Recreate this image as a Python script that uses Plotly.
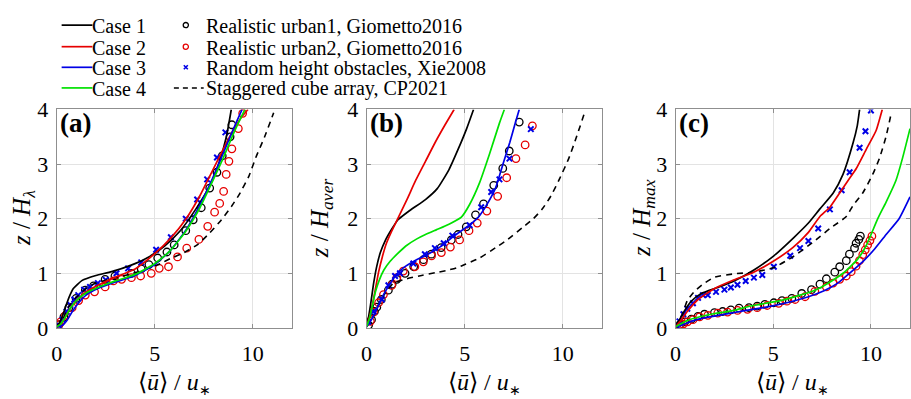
import plotly.graph_objects as go

# ---------------- data: <u>/u* (x) versus normalised height (z) ----------------
# Panel (a): z / H_lambda
a_case1_u = [0.0, 0.15, 0.3, 0.45, 0.62, 0.85, 1.3, 2.0, 2.8, 3.8, 4.65, 5.5, 6.3, 7.1, 7.8, 8.3, 8.65, 8.9]
a_case1_z = [0.02, 0.1, 0.22, 0.38, 0.55, 0.72, 0.87, 0.96, 1.03, 1.15, 1.29, 1.5, 1.78, 2.18, 2.6, 3.05, 3.5, 4.0]
a_case2_u = [0.0, 0.2, 0.4, 0.7, 1.0, 1.5, 2.1, 3.0, 4.0, 5.0, 5.8, 6.6, 7.3, 7.9, 8.5, 9.0, 9.4, 9.75]
a_case2_z = [0.02, 0.06, 0.17, 0.36, 0.5, 0.66, 0.78, 0.93, 1.08, 1.36, 1.64, 2.0, 2.42, 2.85, 3.28, 3.62, 3.85, 4.0]
a_case3_u = [0.0, 0.3, 0.55, 0.8, 1.1, 1.5, 2.1, 3.0, 4.0, 5.0, 5.8, 6.6, 7.3, 7.9, 8.4, 8.9, 9.2, 9.45]
a_case3_z = [0.02, 0.05, 0.15, 0.3, 0.45, 0.6, 0.72, 0.84, 0.96, 1.16, 1.42, 1.8, 2.25, 2.7, 3.12, 3.55, 3.8, 4.0]
a_case4_u = [0.0, 0.2, 0.45, 0.7, 1.0, 1.5, 2.1, 3.0, 4.0, 5.0, 5.8, 6.6, 7.3, 7.9, 8.5, 9.0, 9.35, 9.6]
a_case4_z = [0.02, 0.07, 0.2, 0.36, 0.5, 0.64, 0.74, 0.86, 0.98, 1.18, 1.42, 1.78, 2.2, 2.65, 3.12, 3.55, 3.82, 4.0]
a_cp_u = [0.0, 0.3, 0.6, 1.0, 1.5, 2.0, 2.8, 3.8, 4.6, 5.3, 5.8, 6.5, 7.2, 7.8, 8.4, 8.9, 9.3, 9.8, 10.15, 10.6, 11.06]
a_cp_z = [0.02, 0.15, 0.38, 0.56, 0.72, 0.82, 0.9, 0.99, 1.08, 1.18, 1.27, 1.38, 1.53, 1.74, 1.98, 2.22, 2.44, 2.78, 3.12, 3.5, 3.94]
a_urb1_u = [0.12, 0.37, 0.62, 0.99, 1.46, 1.88, 2.47, 2.97, 3.81, 4.31, 4.7, 5.15, 5.62, 5.99, 6.58, 6.96, 7.37, 7.8, 8.17, 8.44, 8.84, 8.93]
a_urb1_z = [0.06, 0.2, 0.37, 0.54, 0.69, 0.77, 0.89, 0.95, 1.0, 1.08, 1.16, 1.28, 1.39, 1.52, 1.78, 1.98, 2.2, 2.56, 2.85, 3.15, 3.5, 3.72]
a_urb2_u = [0.12, 0.2, 0.45, 0.79, 1.12, 1.46, 1.93, 2.47, 2.89, 3.31, 3.81, 4.28, 4.82, 5.23, 5.7, 6.16, 6.63, 7.25, 7.7, 8.05, 8.31, 8.51, 8.64, 8.78, 8.93, 9.26, 9.48]
a_urb2_z = [0.06, 0.11, 0.23, 0.37, 0.5, 0.6, 0.66, 0.75, 0.86, 0.89, 0.92, 0.95, 1.0, 1.09, 1.12, 1.3, 1.46, 1.62, 1.86, 2.12, 2.28, 2.5, 2.81, 3.05, 3.28, 3.65, 3.93]
a_xie_u = [0.1, 0.3, 0.5, 0.7, 0.9, 1.1, 1.4, 1.7, 2.1, 2.5, 3.05, 3.64, 4.31, 5.07, 5.82, 6.58, 7.16, 7.67, 8.17, 8.6]
a_xie_z = [0.05, 0.15, 0.3, 0.42, 0.52, 0.6, 0.7, 0.75, 0.82, 0.88, 1.0, 1.09, 1.2, 1.43, 1.66, 2.0, 2.35, 2.72, 3.12, 3.58]

# Panel (b): z / H_aver
b_case1_u = [0.0, 0.1, 0.2, 0.35, 0.5, 0.7, 0.95, 1.3, 1.6, 2.2, 3.0, 3.6, 4.2, 4.7, 5.1, 5.45]
b_case1_z = [0.02, 0.2, 0.42, 0.8, 1.1, 1.38, 1.6, 1.82, 1.98, 2.15, 2.35, 2.55, 2.9, 3.3, 3.65, 4.0]
b_case2_u = [0.0, 0.15, 0.35, 0.61, 0.8, 1.01, 1.25, 1.52, 2.03, 2.5, 3.0, 3.5, 4.0, 4.46]
b_case2_z = [0.02, 0.2, 0.52, 1.02, 1.3, 1.55, 1.75, 1.95, 2.33, 2.7, 3.05, 3.4, 3.72, 4.0]
b_case3_u = [0.0, 0.25, 0.51, 0.85, 1.2, 1.5, 1.87, 2.5, 3.24, 3.9, 4.4, 5.27, 5.7, 6.08, 6.58, 6.94, 7.3, 7.6, 7.78]
b_case3_z = [0.02, 0.15, 0.34, 0.6, 0.81, 0.97, 1.1, 1.24, 1.37, 1.52, 1.67, 1.89, 2.03, 2.23, 2.57, 2.99, 3.4, 3.78, 4.0]
b_case4_u = [0.0, 0.15, 0.3, 0.45, 0.65, 0.88, 1.2, 1.55, 2.0, 2.56, 3.0, 3.57, 4.2, 4.83, 5.25, 5.76, 6.26, 6.77, 7.02]
b_case4_z = [0.02, 0.18, 0.42, 0.66, 0.88, 1.06, 1.22, 1.35, 1.5, 1.63, 1.71, 1.8, 1.9, 2.03, 2.26, 2.66, 3.18, 3.75, 4.0]
b_cp_u = [0.0, 0.3, 0.6, 0.95, 1.37, 2.05, 2.8, 3.5, 4.05, 4.6, 5.06, 5.76, 6.58, 7.2, 7.95, 8.5, 8.96, 9.4, 9.82, 10.3, 10.7, 11.1]
b_cp_z = [0.02, 0.18, 0.42, 0.64, 0.82, 0.9, 0.96, 1.01, 1.05, 1.1, 1.17, 1.28, 1.47, 1.62, 1.84, 2.0, 2.18, 2.42, 2.72, 3.1, 3.5, 3.93]
b_urb1_u = [0.1, 0.25, 0.4, 0.52, 0.75, 1.11, 1.3, 1.54, 1.96, 2.4, 2.9, 3.3, 3.8, 4.32, 4.66, 5.08, 5.55, 5.96, 6.48, 6.94, 7.27, 7.78]
b_urb1_z = [0.05, 0.15, 0.3, 0.38, 0.52, 0.69, 0.8, 0.89, 1.0, 1.12, 1.25, 1.35, 1.47, 1.61, 1.71, 1.85, 2.07, 2.27, 2.61, 2.92, 3.24, 3.77]
b_urb2_u = [0.19, 0.35, 0.61, 0.86, 1.28, 1.54, 1.87, 2.46, 2.89, 3.31, 3.81, 4.27, 4.74, 5.22, 5.64, 6.13, 6.68, 7.14, 7.61, 8.08, 8.45]
b_urb2_z = [0.12, 0.29, 0.46, 0.61, 0.78, 0.92, 1.04, 1.12, 1.21, 1.32, 1.38, 1.48, 1.61, 1.78, 1.92, 2.14, 2.41, 2.75, 3.1, 3.35, 3.7]
b_xie_u = [0.08, 0.35, 0.78, 1.11, 1.45, 1.7, 2.38, 2.97, 3.48, 3.93, 4.37, 5.25, 5.84, 6.35, 6.77, 7.28, 8.37]
b_xie_z = [0.11, 0.3, 0.52, 0.78, 0.95, 1.0, 1.18, 1.35, 1.46, 1.55, 1.69, 1.88, 2.21, 2.49, 2.72, 3.1, 3.64]

# Panel (c): z / H_max
c_case1_u = [0.0, 0.2, 0.47, 0.81, 1.32, 2.16, 3.0, 4.01, 5.03, 6.04, 6.8, 7.39, 8.07, 8.57, 9.08, 9.3, 9.42]
c_case1_z = [0.02, 0.15, 0.32, 0.49, 0.63, 0.74, 0.86, 1.06, 1.32, 1.65, 1.92, 2.18, 2.47, 2.81, 3.38, 3.7, 4.0]
c_case2_u = [0.0, 0.3, 0.6, 1.15, 2.0, 3.0, 4.0, 5.0, 6.0, 6.8, 7.39, 7.9, 8.4, 8.83, 9.25, 9.76, 10.26, 10.58]
c_case2_z = [0.02, 0.15, 0.3, 0.52, 0.72, 0.88, 1.02, 1.22, 1.47, 1.75, 2.04, 2.21, 2.47, 2.7, 2.92, 3.27, 3.61, 4.0]
c_case3_u = [0.0, 0.4, 0.8, 1.4, 2.2, 3.3, 4.5, 5.8, 6.8, 7.6, 8.3, 8.9, 9.6, 10.2, 10.8, 11.44, 12.0]
c_case3_z = [0.02, 0.06, 0.12, 0.18, 0.23, 0.3, 0.37, 0.47, 0.57, 0.68, 0.82, 1.0, 1.22, 1.45, 1.72, 2.0, 2.4]
c_case4_u = [0.0, 0.3, 0.7, 1.2, 1.82, 3.0, 3.84, 5.36, 6.37, 7.2, 7.72, 8.57, 9.3, 9.75, 10.35, 10.77, 11.28, 11.61, 12.0]
c_case4_z = [0.02, 0.08, 0.15, 0.2, 0.25, 0.32, 0.4, 0.5, 0.6, 0.7, 0.8, 1.0, 1.25, 1.5, 2.0, 2.3, 2.7, 3.1, 3.65]
c_cp_u = [0.0, 0.3, 0.6, 1.0, 1.4, 2.0, 3.0, 4.0, 5.0, 6.0, 7.0, 7.9, 8.74, 9.08, 9.58, 10.09, 10.43, 10.77, 11.02]
c_cp_z = [0.02, 0.2, 0.5, 0.68, 0.8, 0.93, 0.99, 1.02, 1.1, 1.3, 1.56, 1.82, 2.04, 2.24, 2.47, 2.81, 3.1, 3.5, 3.9]
c_urb1_u = [0.22, 0.47, 0.81, 1.15, 1.48, 1.99, 2.41, 2.83, 3.25, 3.76, 4.18, 4.57, 5.03, 5.45, 5.95, 6.46, 6.96, 7.39, 7.72, 8.15, 8.4, 8.74, 8.9, 9.16, 9.24, 9.38, 9.46]
c_urb1_z = [0.06, 0.11, 0.16, 0.21, 0.25, 0.28, 0.3, 0.33, 0.36, 0.37, 0.4, 0.43, 0.46, 0.5, 0.54, 0.63, 0.7, 0.8, 0.9, 1.02, 1.12, 1.23, 1.35, 1.46, 1.55, 1.62, 1.68]
c_urb2_u = [0.22, 0.39, 0.61, 0.89, 1.23, 1.65, 2.16, 2.66, 3.17, 3.68, 4.18, 4.69, 5.28, 5.7, 6.12, 6.63, 7.13, 7.72, 8.06, 8.4, 8.74, 8.99, 9.24, 9.41, 9.58, 9.71, 9.83, 9.95, 10.05]
c_urb2_z = [0.04, 0.07, 0.11, 0.15, 0.2, 0.23, 0.27, 0.29, 0.32, 0.34, 0.37, 0.41, 0.45, 0.49, 0.52, 0.57, 0.67, 0.75, 0.82, 0.89, 0.95, 1.03, 1.13, 1.23, 1.34, 1.43, 1.52, 1.6, 1.68]
c_xie_u = [0.05, 0.2, 0.4, 0.6, 0.89, 1.15, 1.4, 1.65, 2.07, 2.5, 2.83, 3.17, 3.59, 4.01, 4.44, 5.03, 5.87, 6.37, 6.8, 7.3, 7.9, 8.5, 8.91, 9.42, 9.72, 10.0]
c_xie_z = [0.05, 0.12, 0.25, 0.35, 0.45, 0.55, 0.6, 0.6, 0.66, 0.7, 0.74, 0.79, 0.86, 0.92, 0.97, 1.12, 1.32, 1.46, 1.59, 1.82, 2.17, 2.52, 2.85, 3.3, 3.6, 3.98]

panel_labels = ["(a)", "(b)", "(c)"]
y_titles = ["<i>z</i> / <i>H</i><sub><i>λ</i></sub>",
            "<i>z</i> / <i>H</i><sub><i>aver</i></sub>",
            "<i>z</i> / <i>H</i><sub><i>max</i></sub>"]
x_title = "⟨<i>ū</i>⟩ / <i>u</i><sub><span style='font-size:14px'>∗</span></sub>"
x_ticks = [0, 5, 10]
y_ticks = [0, 1, 2, 3, 4]

case_names = ["Case 1", "Case 2", "Case 3", "Case 4"]
ref_names = ["Realistic urban1, Giometto2016", "Realistic urban2, Giometto2016",
             "Random height obstacles, Xie2008", "Staggered cube array, CP2021"]

panels = [
    dict(cases=[(a_case1_u, a_case1_z), (a_case2_u, a_case2_z), (a_case3_u, a_case3_z), (a_case4_u, a_case4_z)],
         cp=(a_cp_u, a_cp_z), urb1=(a_urb1_u, a_urb1_z), urb2=(a_urb2_u, a_urb2_z), xie=(a_xie_u, a_xie_z)),
    dict(cases=[(b_case1_u, b_case1_z), (b_case2_u, b_case2_z), (b_case3_u, b_case3_z), (b_case4_u, b_case4_z)],
         cp=(b_cp_u, b_cp_z), urb1=(b_urb1_u, b_urb1_z), urb2=(b_urb2_u, b_urb2_z), xie=(b_xie_u, b_xie_z)),
    dict(cases=[(c_case1_u, c_case1_z), (c_case2_u, c_case2_z), (c_case3_u, c_case3_z), (c_case4_u, c_case4_z)],
         cp=(c_cp_u, c_cp_z), urb1=(c_urb1_u, c_urb1_z), urb2=(c_urb2_u, c_urb2_z), xie=(c_xie_u, c_xie_z)),
]

# ---------------- styling ----------------
W, H = 911, 399
SERIF = "Liberation Serif"
BLACK, RED, BLUE, GREEN = "#000000", "#e60000", "#0000e6", "#00e100"
case_colors = [BLACK, RED, BLUE, GREEN]
FRAME = "#8f8f8f"
GRID = "#e3e3e3"

x_domains = [(51 / W, 288 / W), (363 / W, 600 / W), (674 / W, 910 / W)]
y_domain = (1 - 337 / H, 1 - 104 / H)

fig = go.Figure()

for i, p in enumerate(panels):
    xa = "x" if i == 0 else f"x{i + 1}"
    ya = "y" if i == 0 else f"y{i + 1}"
    # reference data (markers)
    fig.add_trace(go.Scatter(x=p["urb1"][0], y=p["urb1"][1], mode="markers", name=ref_names[0],
                             marker=dict(symbol="circle-open", size=7.5, color=BLACK, line=dict(width=1.3)),
                             xaxis=xa, yaxis=ya, showlegend=False))
    fig.add_trace(go.Scatter(x=p["urb2"][0], y=p["urb2"][1], mode="markers", name=ref_names[1],
                             marker=dict(symbol="circle-open", size=7.5, color=RED, line=dict(width=1.3)),
                             xaxis=xa, yaxis=ya, showlegend=False))
    fig.add_trace(go.Scatter(x=p["xie"][0], y=p["xie"][1], mode="markers", name=ref_names[2],
                             marker=dict(symbol="x-thin-open", size=5.5, color=BLUE, line=dict(width=2, color=BLUE)),
                             xaxis=xa, yaxis=ya, showlegend=False))
    # staggered cube array (dashed)
    fig.add_trace(go.Scatter(x=p["cp"][0], y=p["cp"][1], mode="lines", name=ref_names[3],
                             line=dict(color=BLACK, width=1.6, dash="6px,5px", shape="spline", smoothing=0.5),
                             xaxis=xa, yaxis=ya, showlegend=False))
    # simulation cases
    for k, (u, z) in enumerate(p["cases"]):
        fig.add_trace(go.Scatter(x=u, y=z, mode="lines", name=case_names[k],
                                 line=dict(color=case_colors[k], width=1.7, shape="spline", smoothing=0.5),
                                 xaxis=xa, yaxis=ya, showlegend=False))

axis_common = dict(showline=True, linecolor=FRAME, linewidth=1, mirror="ticks",
                   ticks="inside", ticklen=4, tickcolor=FRAME, tickwidth=1,
                   showgrid=True, gridcolor=GRID, gridwidth=1, zeroline=False,
                   tickfont=dict(family=SERIF, size=22, color="#000000"))

layout = dict(width=W, height=H, margin=dict(l=0, r=0, t=0, b=0),
              paper_bgcolor="white", plot_bgcolor="white", showlegend=False,
              font=dict(family=SERIF, size=19, color="#000000"))
for i in range(3):
    xk = "xaxis" if i == 0 else f"xaxis{i + 1}"
    yk = "yaxis" if i == 0 else f"yaxis{i + 1}"
    anchor_x = "y" if i == 0 else f"y{i + 1}"
    anchor_y = "x" if i == 0 else f"x{i + 1}"
    layout[xk] = dict(axis_common, domain=x_domains[i], range=[0, 12], tickvals=x_ticks,
                      anchor=anchor_x, ticklabelstandoff=6)
    layout[yk] = dict(axis_common, domain=y_domain, range=[0, 4], tickvals=y_ticks,
                      anchor=anchor_y, ticklabelstandoff=3)
fig.update_layout(**layout)

annotations = []
shapes = []

def px(xp):
    return xp / W

def py(yp):
    return 1 - yp / H

# axis titles and panel labels
y_title_x = [17, 317, 641]
for i in range(3):
    cx = (x_domains[i][0] + x_domains[i][1]) / 2
    annotations.append(dict(text=x_title, x=cx, y=py(396), xref="paper", yref="paper",
                            xanchor="center", yanchor="middle", showarrow=False,
                            font=dict(family=SERIF, size=24, color="#000000")))
    annotations.append(dict(text=y_titles[i], x=px(y_title_x[i]), y=py(220), xref="paper", yref="paper",
                            xanchor="center", yanchor="middle", showarrow=False, textangle=-90,
                            font=dict(family=SERIF, size=25, color="#000000")))
    annotations.append(dict(text=f"<b>{panel_labels[i]}</b>", x=x_domains[i][0] + px(1), y=py(118),
                            xref="paper", yref="paper", xanchor="left", yanchor="middle", showarrow=False,
                            font=dict(family=SERIF, size=27, color="#000000")))

# legend block: two columns of four rows
rows = [14, 37, 59, 81]
LEG_FONT = dict(family=SERIF, size=20, color="#000000")
for k in range(4):
    shapes.append(dict(type="line", xref="paper", yref="paper", x0=px(56), x1=px(87),
                       y0=py(rows[k]), y1=py(rows[k]), line=dict(color=case_colors[k], width=1.7)))
    annotations.append(dict(text=case_names[k], x=px(85), y=py(rows[k] + 1), xref="paper", yref="paper",
                            xanchor="left", yanchor="middle", showarrow=False, font=LEG_FONT))
    annotations.append(dict(text=ref_names[k], x=px(199), y=py(rows[k] + 1), xref="paper", yref="paper",
                            xanchor="left", yanchor="middle", showarrow=False, font=LEG_FONT))

for k, col in enumerate([BLACK, RED]):
    shapes.append(dict(type="circle", xref="paper", yref="paper", xsizemode="pixel", ysizemode="pixel",
                       xanchor=px(181), yanchor=py(rows[k]), x0=-2.6, x1=2.6, y0=-2.6, y1=2.6,
                       line=dict(color=col, width=1.3)))
shapes.append(dict(type="path", xref="paper", yref="paper", xsizemode="pixel", ysizemode="pixel",
                   xanchor=px(181), yanchor=py(rows[2]), path="M-2,-2L2,2M-2,2L2,-2",
                   line=dict(color=BLUE, width=1.6)))
shapes.append(dict(type="line", xref="paper", yref="paper", x0=px(169), x1=px(199),
                   y0=py(rows[3]), y1=py(rows[3]), line=dict(color=BLACK, width=1.5, dash="5px,4px")))

fig.update_layout(annotations=annotations, shapes=shapes)
fig.write_html("out.html")
